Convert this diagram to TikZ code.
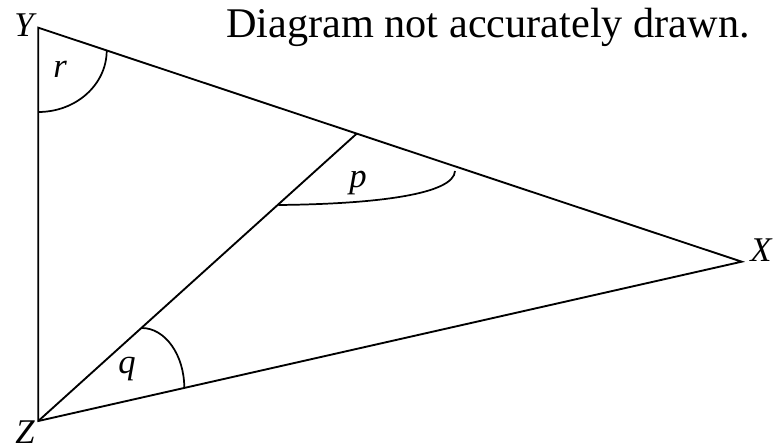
\documentclass[tikz,border=0pt]{standalone}
\usepackage{fontspec}
\setmainfont{Liberation Serif}
\usetikzlibrary{calc}
\begin{document}
\begin{tikzpicture}[
  x=0.75pt, y=-0.75pt,
  edge/.style={line width=1.4pt},
  anglearc/.style={line width=1.3pt},
  vlabel/.style={font=\fontsize{26}{31}\selectfont\itshape, anchor=base, inner sep=0pt},
  note/.style={font=\fontsize{31.7}{38}\selectfont, anchor=base west, inner sep=0pt}
]
  \useasboundingbox (0,0) rectangle (774,448);

  % Vertices of the triangle
  \coordinate (Y) at (38.3,27.7);
  \coordinate (X) at (741.7,261.7);
  \coordinate (Z) at (38.3,421);
  \coordinate (W) at ($(Y)!0.4527!(X)$);

  % Triangle and the line from Z
  \draw[edge] (Y) -- (X) -- (Z) -- cycle;
  \draw[edge] (Z) -- (W);

  % Angle arcs
  \draw[anglearc] (38.3,112) .. controls (76,112) and (106.7,84.6) .. (106.7,50.5);
  \draw[anglearc] (141.7,328) .. controls (165.2,328) and (184.3,355) .. (184.3,388);
  \draw[anglearc] (278.3,205) .. controls (378,204) and (454,194) .. (455,171);

  % Vertex labels
  \node[vlabel] (lblY) at (24,37) {Y};
  \node[vlabel] (lblX) at (761,262) {X};
  \node[vlabel] (lblZ) at (25,444) {Z};

  % Angle labels
  \node[vlabel] (lblr) at (60,78) {r};
  \node[vlabel] (lblq) at (127,374) {q};
  \node[vlabel] (lblp) at (358,188) {p};

  % Note
  \node[note] (caption) at (226,38) {Diagram not accurately drawn.};
\end{tikzpicture}
\end{document}
